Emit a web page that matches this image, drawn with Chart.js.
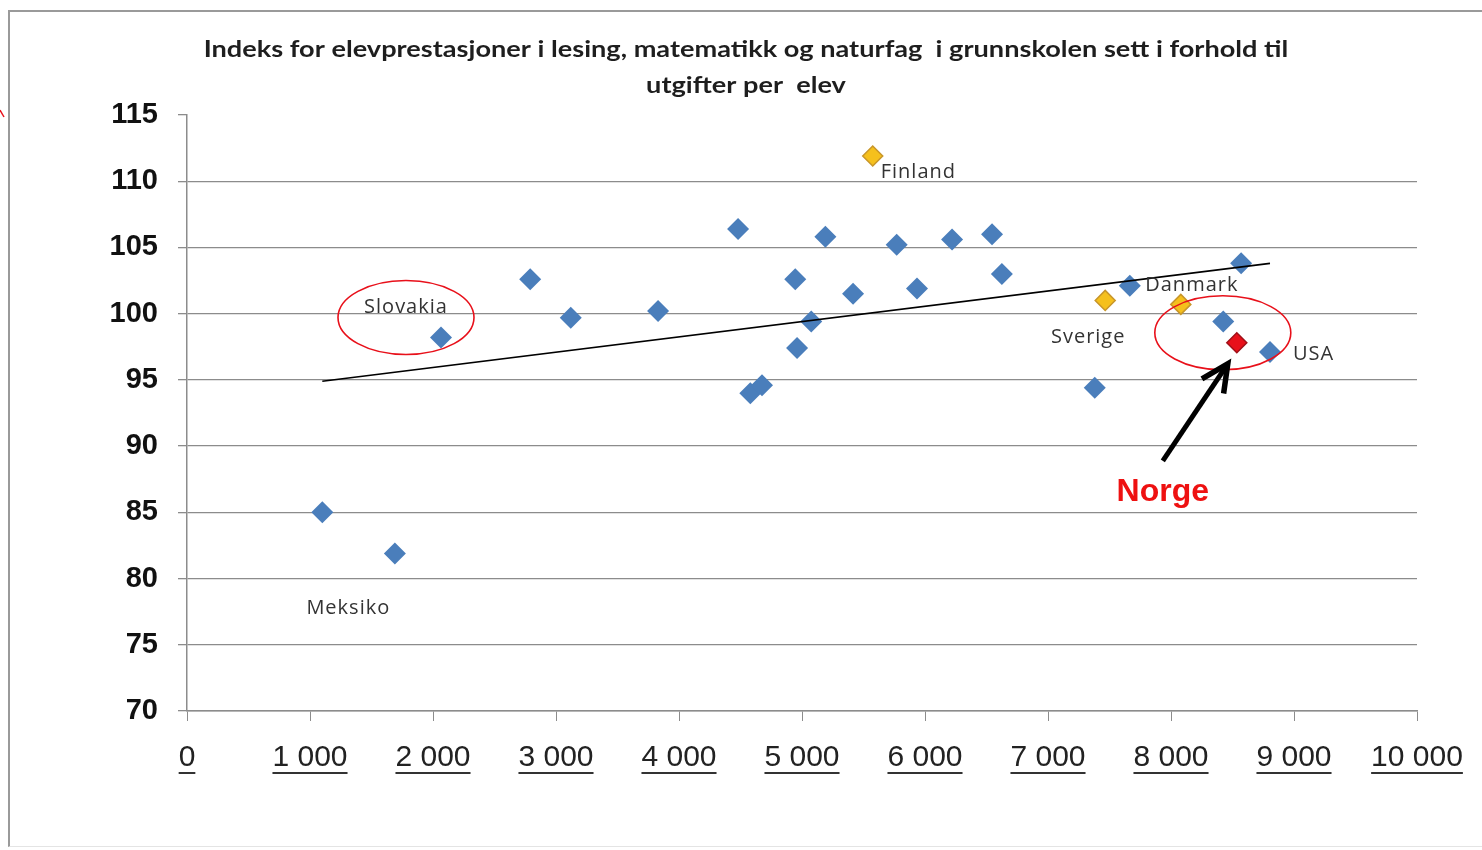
<!DOCTYPE html>
<html>
<head>
<meta charset="utf-8">
<script src="https://cdn.jsdelivr.net/npm/chart.js@4/dist/chart.umd.min.js"></script>
<style>
  html, body { margin: 0; padding: 0; background: #fff; }
  #wrap { position: relative; width: 1482px; height: 850px; overflow: hidden; }
  #frame { position: absolute; left: 8px; top: 10px; width: 1520px; height: 834px;
           border-left: 2px solid #9a9a9a; border-top: 2px solid #9a9a9a; border-bottom: 1px solid #e4e4e4; }
  canvas { position: absolute; left: 0; top: 0; }
</style>
</head>
<body>
<div id="wrap">
  <div id="frame"></div>
  <canvas id="chart" width="1482" height="850"></canvas>
</div>
<script>
// Utgifter per elev (x) vs indeks for elevprestasjoner (y)
const otherX = [1100, 1690, 2065, 2790, 3120, 3830, 4480, 4580, 4675, 4945, 4960, 5075, 5190, 5415, 5770, 5935, 6220, 6545, 6625, 7380, 7665, 8425, 8570, 8805];
const otherY = [85.0, 81.9, 98.2, 102.6, 99.7, 100.2, 106.4, 94.0, 94.6, 102.6, 97.4, 99.4, 105.8, 101.5, 105.2, 101.9, 105.6, 106.0, 103.0, 94.4, 102.1, 99.4, 103.8, 97.1];

const nordicNames = ['Finland', 'Sverige', 'Danmark'];
const nordicX = [5575, 7465, 8080];
const nordicY = [111.9, 101.0, 100.7];

const norgeX = [8535];
const norgeY = [97.8];

// trendline end points
const trendX = [1100, 8805];
const trendY = [94.9, 103.8];

const xTickLabels = ['0', '1 000', '2 000', '3 000', '4 000', '5 000', '6 000', '7 000', '8 000', '9 000', '10 000'];
const yTickLabels = ['70', '75', '80', '85', '90', '95', '100', '105', '110', '115'];

const titleLines = ['Indeks for elevprestasjoner i lesing, matematikk og naturfag  i grunnskolen sett i forhold til', 'utgifter per  elev'];

const pts = (xs, ys) => xs.map((x, i) => ({ x: x, y: ys[i] }));

// point labels: which dataset / index, and where the text sits relative to the point
const pointLabels = [
  { text: 'Finland',  ds: 2, i: 0,  dx: 8,   dy: 16, align: 'left' },
  { text: 'Sverige',  ds: 2, i: 1,  dx: -17, dy: 37, align: 'center' },
  { text: 'Danmark',  ds: 2, i: 2,  dx: 11,  dy: -19, align: 'center' },
  { text: 'Slovakia', ds: 1, i: 2,  dx: -35, dy: -30, align: 'center' },
  { text: 'Meksiko',  ds: 1, i: 0,  dx: 26,  dy: 96, align: 'center' },
  { text: 'USA',      ds: 1, i: 23, dx: 23,  dy: 2,  align: 'left' }
];

const gridGray = '#8c8c8c';

const annotate = {
  id: 'annotate',
  afterDraw(chart) {
    const ctx = chart.ctx;
    const xs = chart.scales.x;
    ctx.save();

    // title (the source picture is stretched sideways, so the text is too)
    ctx.save();
    ctx.fillStyle = '#1e1e1e';
    ctx.font = "bold 23px Lato, 'Open Sans', sans-serif";
    ctx.textAlign = 'center';
    ctx.textBaseline = 'middle';
    ctx.translate(746, 0);
    ctx.scale(1.18, 1);
    ctx.fillText(titleLines[0], 0, 50);
    ctx.fillText(titleLines[1], 0, 86);
    ctx.restore();

    // underline under the x tick labels
    ctx.font = "30px 'Liberation Sans', Arial, sans-serif";
    ctx.strokeStyle = '#333';
    ctx.lineWidth = 2;
    xs.ticks.forEach((t, i) => {
      const px = xs.getPixelForValue(t.value);
      const w = ctx.measureText(xTickLabels[i]).width;
      ctx.beginPath();
      ctx.moveTo(px - w / 2, 773);
      ctx.lineTo(px + w / 2, 773);
      ctx.stroke();
    });

    // point labels
    ctx.font = "20px 'Open Sans', sans-serif";
    ctx.letterSpacing = '1px';
    ctx.fillStyle = '#333';
    ctx.textBaseline = 'middle';
    pointLabels.forEach(l => {
      const el = chart.getDatasetMeta(l.ds).data[l.i];
      ctx.textAlign = l.align;
      ctx.fillText(l.text, el.x + l.dx, el.y + l.dy);
    });
    ctx.letterSpacing = '0px';

    // red ellipses
    ctx.strokeStyle = '#e8101a';
    ctx.lineWidth = 1.6;
    const slov = chart.getDatasetMeta(1).data[2];
    ctx.beginPath();
    ctx.ellipse(slov.x - 35, slov.y - 20, 68, 37, 0, 0, Math.PI * 2);
    ctx.stroke();
    const nor = chart.getDatasetMeta(3).data[0];
    ctx.beginPath();
    ctx.ellipse(nor.x - 14, nor.y - 10, 68, 37, 0, 0, Math.PI * 2);
    ctx.stroke();

    // arrow pointing at Norge
    const tipX = nor.x - 9, tipY = nor.y + 21;
    const tailX = nor.x - 74, tailY = nor.y + 118;
    const ang = Math.atan2(tipY - tailY, tipX - tailX);
    ctx.strokeStyle = '#000';
    ctx.lineWidth = 5;
    ctx.lineCap = 'butt';
    ctx.beginPath();
    ctx.moveTo(tailX, tailY);
    ctx.lineTo(tipX - Math.cos(ang) * 4, tipY - Math.sin(ang) * 4);
    ctx.stroke();
    ctx.lineJoin = 'miter';
    ctx.lineWidth = 5.5;
    ctx.beginPath();
    ctx.moveTo(tipX - Math.cos(ang - 0.45) * 30, tipY - Math.sin(ang - 0.45) * 30);
    ctx.lineTo(tipX, tipY);
    ctx.lineTo(tipX - Math.cos(ang + 0.45) * 30, tipY - Math.sin(ang + 0.45) * 30);
    ctx.stroke();

    ctx.fillStyle = '#ee1111';
    ctx.font = "bold 32px 'Liberation Sans', Arial, sans-serif";
    ctx.textAlign = 'center';
    ctx.fillText('Norge', nor.x - 74, nor.y + 149);

    // small red mark at the left edge
    ctx.strokeStyle = '#e8101a';
    ctx.lineWidth = 1.5;
    ctx.beginPath();
    ctx.moveTo(0, 110);
    ctx.lineTo(4, 117);
    ctx.stroke();

    ctx.restore();
  }
};

new Chart(document.getElementById('chart'), {
  type: 'scatter',
  data: {
    datasets: [
      {
        type: 'line',
        data: pts(trendX, trendY),
        borderColor: '#000',
        borderWidth: 1.6,
        pointRadius: 0,
        fill: false
      },
      {
        data: pts(otherX, otherY),
        pointStyle: 'rectRot',
        pointRadius: 11,
        backgroundColor: '#4a7ebb',
        borderColor: '#4a7ebb',
        borderWidth: 0
      },
      {
        data: pts(nordicX, nordicY),
        pointStyle: 'rectRot',
        pointRadius: 10,
        backgroundColor: '#f5c01c',
        borderColor: '#c8962a',
        borderWidth: 1.5
      },
      {
        data: pts(norgeX, norgeY),
        pointStyle: 'rectRot',
        pointRadius: 10,
        backgroundColor: '#e8101a',
        borderColor: '#a01018',
        borderWidth: 1.5
      }
    ]
  },
  options: {
    responsive: false,
    animation: false,
    events: [],
    devicePixelRatio: 1,
    layout: { padding: { top: 115, right: 65, left: 0, bottom: 0 } },
    plugins: { legend: { display: false }, tooltip: { enabled: false } },
    scales: {
      x: {
        type: 'linear',
        min: 0, max: 10000,
        afterFit: s => { s.height = 139; },
        afterBuildTicks: s => { s.ticks = xTickLabels.map((_, i) => ({ value: i * 1000 })); },
        ticks: {
          autoSkip: false,
          maxRotation: 0,
          padding: 19,
          color: '#222',
          font: { family: "'Liberation Sans', Arial, sans-serif", size: 30 },
          callback: (v, i) => xTickLabels[i]
        },
        grid: { drawOnChartArea: false, drawTicks: true, tickLength: 10, tickColor: gridGray },
        border: { display: true, color: gridGray, width: 1.5 }
      },
      y: {
        type: 'linear',
        min: 70, max: 115,
        afterFit: s => { s.width = 187; },
        afterBuildTicks: s => { s.ticks = yTickLabels.map((_, i) => ({ value: 70 + i * 5 })); },
        ticks: {
          padding: 20,
          color: '#111',
          font: { family: "'Liberation Sans', Arial, sans-serif", size: 29, weight: 'bold' },
          callback: (v, i) => yTickLabels[i]
        },
        grid: {
          color: c => (c.tick && c.tick.value === 115) ? 'rgba(0,0,0,0)' : gridGray,
          lineWidth: 1.3,
          drawTicks: true,
          tickLength: 9,
          tickColor: gridGray
        },
        border: { display: true, color: gridGray, width: 1.5 }
      }
    }
  },
  plugins: [annotate]
});
</script>
</body>
</html>
